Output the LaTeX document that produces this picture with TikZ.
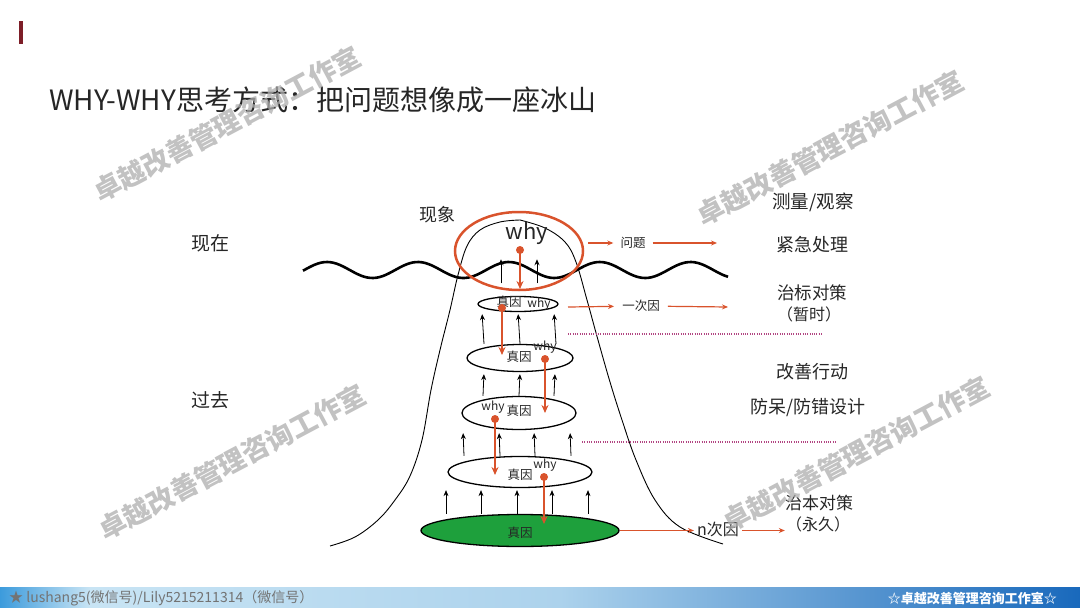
\documentclass[tikz,border=0pt]{standalone}
\usepackage{fontspec}
\setmainfont{Noto Sans CJK SC}
\usetikzlibrary{positioning,arrows.meta,calc,shapes.geometric}
\definecolor{whyred}{RGB}{217,83,44}
\definecolor{rootgreen}{RGB}{30,160,60}
\definecolor{dotline}{RGB}{178,70,130}
\definecolor{markred}{RGB}{125,30,40}
\definecolor{barblue}{RGB}{25,105,188}
\definecolor{barmid}{RGB}{172,210,236}
\definecolor{barlight}{RGB}{200,228,244}
\definecolor{barleft}{RGB}{60,155,220}

\begin{document}
\begin{tikzpicture}[
    x=1pt, y=-1pt,
    txt/.style={inner sep=1pt, text=black!85, font=\fontsize{#1}{#1}\selectfont},
    cause/.style={ellipse, draw, line width=1.3pt, inner sep=0pt},
    whyarr/.style={-{Stealth[length=8pt,width=7pt]}, draw=whyred, line width=2.5pt},
    whydot/.style={circle, fill=whyred, inner sep=0pt, minimum size=8pt},
    push/.style={-{Stealth[length=6pt,width=5pt]}, line width=0.8pt},
    conn/.style={-{Stealth[length=6pt,width=5pt]}, whyred, line width=1.2pt},
    sep/.style={dotline, line width=1.2pt, dash pattern=on 1pt off 1.3pt},
    wmark/.style={rotate=28, text=black!32, opacity=0.75,
                  font=\fontsize{27}{27}\selectfont\bfseries},
]
\useasboundingbox (0,0) rectangle (1080,608);

% ---- Heading ----
\fill[markred] (19,21) rectangle (23,44);
\node[txt=28, anchor=west] (title) at (48,100) {WHY-WHY思考方式：把问题想像成一座冰山};
\node[txt=19] (now)  at (210,243) {现在};
\node[txt=19] (past) at (210,400) {过去};
\node[txt=18] (look) at (437,215) {现象};

% ---- Iceberg and water line ----
\draw[line width=0.9pt] plot[smooth, tension=0.6] coordinates {
    (330,546) (355,537) (378,520) (395,500) (410,476) (422,440) (431,390)
    (440,350) (450,310) (458,275) (467,246) (480,230) (500,222) (520,220)};
\draw[line width=0.9pt] plot[smooth, tension=0.6] coordinates {
    (520,220) (545,228) (565,242) (576,262) (587,300) (598,340) (610,382)
    (622,420) (636,460) (655,500) (680,527) (723,544)};
\draw[line width=2.6pt] plot[domain=303:728, samples=140, smooth]
    (\x, {270-8*cos(3.96*(\x-327))});

% ---- Causes, one layer under the other ----
\node[ellipse, draw=whyred, line width=2.5pt, minimum width=128, minimum height=78] (top) at (519,251) {};
\node[cause, minimum width=80,  minimum height=15] (c1) at (518,304) {};
\node[cause, minimum width=106, minimum height=27] (c2) at (520,358) {};
\node[cause, minimum width=114, minimum height=33] (c3) at (519,413) {};
\node[cause, minimum width=144, minimum height=31] (c4) at (520,472) {};
\node[cause, fill=rootgreen, minimum width=198, minimum height=32] (root) at (520,530.5) {};

\node[txt=22] (bigwhy) at (527,233) {why};
\node[txt=12.5] (r1) at (509,302) {真因};
\node[txt=12]   (w1) at (539,304) {why};
\node[txt=12.5] (r2) at (519,357) {真因};
\node[txt=12]   (w2) at (545,347) {why};
\node[txt=12]   (w3) at (493,407) {why};
\node[txt=12.5] (r3) at (519,411) {真因};
\node[txt=12.5] (r4) at (520,475) {真因};
\node[txt=12]   (w4) at (545,465) {why};
\node[txt=12.5] (r5) at (520,533) {真因};

% asking why, one level down each time
\foreach \n/\x/\ya/\yb in {0/520/250/289, 1/502/308/355, 2/545/359/413,
                           3/495/419/475, 4/544/477/524}{
  \node[whydot] (d\n) at (\x,\ya) {};
  \coordinate (t\n) at (\x,\yb);
  \draw[whyarr] (d\n.center) -- (t\n);
}

% causes pushing up
\foreach \dx in {-18,18}
  \draw[push] ([xshift=\dx, yshift=8]top.south) -- ++(0,-24);
\foreach \dx in {-36,0,36}
  \draw[push, shorten >=2pt] ([xshift=\dx]c2.north) -- ([xshift=\dx]c1.south);
\foreach \dx in {-36,0,35}
  \draw[push, shorten >=2pt] ([xshift=\dx]c3.north) -- ([xshift=\dx]c2.south);
\foreach \dx in {-56,-20,15,51}
  \draw[push, shorten >=3pt] ([xshift=\dx]c4.north) -- ([xshift=\dx]c3.south);
\foreach \dx in {-74,-39,-3,32,68}
  \draw[push, shorten >=2pt] ([xshift=\dx]root.north) -- ([xshift=\dx]c4.south);

% ---- Right side ----
\node[txt=12.5, inner xsep=7pt] (wen) at (633,243) {问题};
\coordinate (wen0) at (588,243);
\coordinate (wen1) at (717,243);
\draw[conn] (wen0) -- (wen);
\draw[conn] (wen) -- (wen1);

\node[txt=12.5, inner xsep=8pt] (yici) at (641,306) {一次因};
\coordinate (yici0) at (568,307);
\coordinate (yici1) at (728,307);
\draw[conn] (yici0) -- (yici);
\draw[conn] (yici) -- (yici1);

\node[txt=16, inner xsep=3pt] (nci) at (718,529) {n次因};
\draw[conn] (root.east) -- (root.east -| nci.west);

\coordinate (sa0) at (568,334);
\coordinate (sa1) at (823,334);
\coordinate (sb0) at (582,442);
\coordinate (sb1) at (837,442);
\draw[sep] (sa0) -- (sa1);
\draw[sep] (sb0) -- (sb1);

\node[txt=18.5] (measure) at (813,202) {测量/观察};
\node[txt=18]   (urgent)  at (812,245) {紧急处理};
\node[txt=17.5] (symp)    at (812,293) {治标对策};
\node[txt=16]   (temp)    at (809,314) {（暂时）};
\node[txt=18]   (improve) at (812,372) {改善行动};
\node[txt=18]   (poka)    at (808,408) {防呆/防错设计};
\node[txt=17]   (cure)    at (819,503) {治本对策};
\node[txt=16]   (perm)    at (818,524) {（永久）};
\draw[conn] (root.east -| nci.east) -- (root.east -| perm.west);

% ---- Footer bar ----
\shade[left color=barleft, right color=barlight] (0,587) rectangle (90,608);
\shade[left color=barlight, right color=barmid] (90,587) rectangle (560,608);
\shade[left color=barmid, right color=barblue] (560,587) rectangle (1080,608);
\node[txt=14, text=black!55, anchor=west] (foot1) at (8,598) {★ lushang5(微信号)/Lily5215211314（微信号）};
\node[inner sep=1pt, text=white, anchor=east, font=\fontsize{13}{13}\selectfont\bfseries] (foot2) at (1058,598) {☆卓越改善管理咨询工作室☆};

% ---- Watermarks ----
\node[wmark] (wm1) at (227,124) {卓越改善管理咨询工作室};
\node[wmark] (wm2) at (830,148) {卓越改善管理咨询工作室};
\node[wmark] (wm3) at (232,462) {卓越改善管理咨询工作室};
\node[wmark] (wm4) at (856,454) {卓越改善管理咨询工作室};
\end{tikzpicture}
\end{document}
